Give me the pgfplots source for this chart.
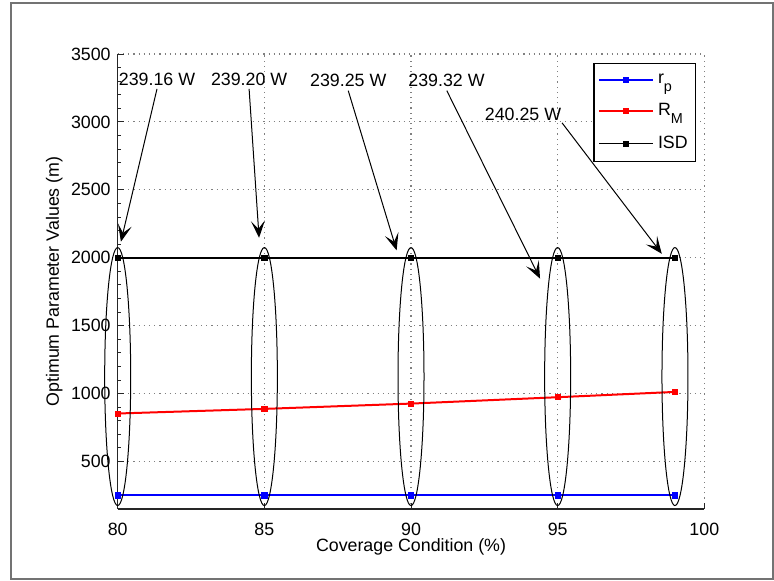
\documentclass[border=0pt]{standalone}
\usepackage{fontspec}
\setmainfont{Liberation Sans}
\usepackage{pgfplots}
\pgfplotsset{compat=1.18}
\usetikzlibrary{arrows.meta}

\newcommand{\sub}[1]{\raisebox{-4pt}{\fontsize{7.2}{8}\selectfont #1}}

\begin{document}
\begin{tikzpicture}[font=\fontsize{8.9}{10.5}\selectfont]
\begin{axis}[
  at={(58.85pt,36pt)}, anchor=south west,
  scale only axis, width=293.3pt, height=227.5pt,
  xmin=80, xmax=100, ymin=150, ymax=3500,
  xtick={80,85,...,100}, ytick={500,1000,...,3500},
  minor y tick num=4,
  axis x line*=bottom, axis y line*=left,
  axis line style={line width=0.55pt, black!85},
  tick style={black!85, line width=0.45pt},
  tick align=inside, major tick length=3pt, minor tick length=1.6pt,
  grid=major,
  grid style={black!50, line width=0.6pt, dotted},
  /pgf/number format/assume math mode=true,
  /pgf/number format/1000 sep={},
  xticklabel style={yshift=-3.5pt},
  xlabel={Coverage Condition (\%)},
  ylabel={Optimum Parameter Values (m)},
  xlabel style={at={(axis description cs:0.5,-0.0835)}, anchor=center},
  ylabel style={at={(axis description cs:-0.108,0.5)}, anchor=center},
  clip=false,
  legend style={at={(1,1)}, anchor=north east, xshift=-4pt, yshift=-4.5pt,
    draw=black, line width=0.6pt, fill=white, inner xsep=2pt, inner ysep=3.2pt,
    row sep=4.5pt},
  legend cell align=left,
  legend image code/.code={\draw[mark repeat=2,mark phase=2,#1]
    plot coordinates {(0pt,0pt) (13.5pt,0pt) (27pt,0pt)};},
]
\addplot[blue, line width=1pt, mark=square*, mark size=1.3pt,
  mark options={solid, line width=0.4pt}]
  coordinates {(80,250) (85,250) (90,250) (95,250) (99,250)};
\addlegendentry{r\sub{p}}
\addplot[red, line width=1pt, mark=square*, mark size=1.3pt,
  mark options={solid, line width=0.4pt}]
  coordinates {(80,853) (85,887) (90,926) (95,973) (99,1012)};
\addlegendentry{R\sub{M}}
\addplot[black, line width=0.8pt, mark=square*, mark size=1.3pt,
  mark options={solid, line width=0.4pt}]
  coordinates {(80,2000) (85,2000) (90,2000) (95,2000) (99,2000)};
\addlegendentry{ISD}

% groups of optimum values at each coverage condition
\draw[line width=0.5pt] (axis cs:80,1125) ellipse [x radius=6.5pt, y radius=64.5pt];
\draw[line width=0.5pt] (axis cs:85,1125) ellipse [x radius=6.5pt, y radius=64.5pt];
\draw[line width=0.5pt] (axis cs:90,1125) ellipse [x radius=6.5pt, y radius=64.5pt];
\draw[line width=0.5pt] (axis cs:95,1125) ellipse [x radius=6.5pt, y radius=64.5pt];
\draw[line width=0.5pt] (axis cs:99,1125) ellipse [x radius=6.5pt, y radius=64.5pt];

% power annotations
\tikzset{pw/.style={-{Stealth[length=8.5pt, width=7pt, inset=4pt]}, line width=0.5pt}}
\node at (axis cs:81.34,3310) {239.16 W};
\node at (axis cs:84.48,3310) {239.20 W};
\node at (axis cs:87.86,3305) {239.25 W};
\node at (axis cs:91.21,3305) {239.32 W};
\node at (axis cs:93.82,3059) {240.25 W};
\draw[pw] (axis cs:81.34,3243) -- (axis cs:80.11,2118);
\draw[pw] (axis cs:84.48,3243) -- (axis cs:84.82,2147);
\draw[pw] (axis cs:87.86,3230) -- (axis cs:89.51,2054);
\draw[pw] (axis cs:91.22,3230) -- (axis cs:94.40,1846);
\draw[pw] (axis cs:95.15,2993) -- (axis cs:98.55,2029);
\end{axis}
% figure frame
\draw[line width=0.6pt, black!55] (5.5pt,1pt) rectangle (386.5pt,289pt);
\pgfresetboundingbox
\useasboundingbox (0,0) rectangle (387pt,290.5pt);
\end{tikzpicture}
\end{document}
